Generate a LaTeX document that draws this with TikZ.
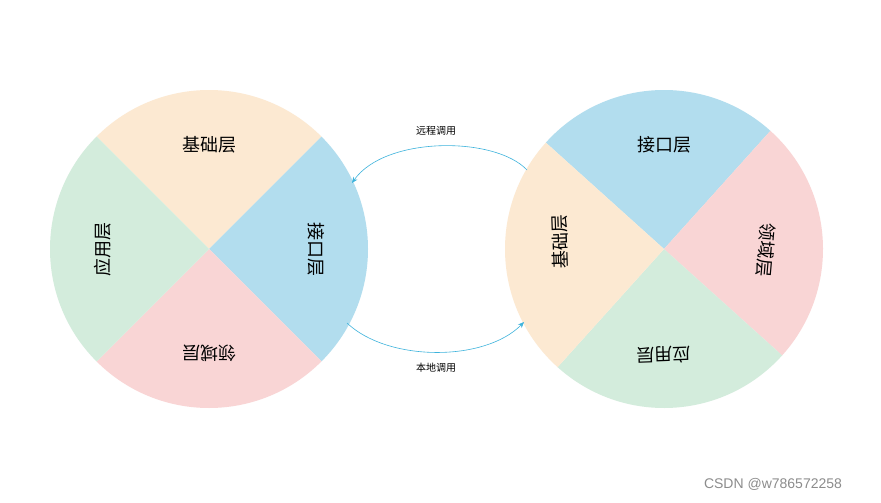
\documentclass[tikz,border=0pt]{standalone}
\usepackage{fontspec}
\newfontfamily\cjk{Noto Sans CJK SC}
\setsansfont{Liberation Sans}
\usetikzlibrary{arrows.meta}
\definecolor{cor}{HTML}{FCE9D2}
\definecolor{cbl}{HTML}{B2DDEE}
\definecolor{cpk}{HTML}{F9D5D5}
\definecolor{cgr}{HTML}{D3ECDC}
\definecolor{carr}{HTML}{3DB3DC}
\begin{document}
\begin{tikzpicture}[x=1pt,y=-1pt,
  lbl/.style={font=\cjk\fontsize{18}{20}\selectfont},
  sml/.style={font=\cjk\fontsize{10}{12}\selectfont},
  conn/.style={carr,line width=0.6pt,-{Stealth[length=6pt,width=5pt]}}]
\useasboundingbox[fill=white] (0,0) rectangle (881,503);
% left circle
\begin{scope}[shift={(209,249)}]
\fill[cor] (0,0) -- (-45:159) arc[start angle=-45,end angle=-135,radius=159] -- cycle;
\fill[cbl] (0,0) -- (45:159) arc[start angle=45,end angle=-45,radius=159] -- cycle;
\fill[cpk] (0,0) -- (135:159) arc[start angle=135,end angle=45,radius=159] -- cycle;
\fill[cgr] (0,0) -- (-135:159) arc[start angle=-135,end angle=-225,radius=159] -- cycle;
\end{scope}
\node[lbl] (l1) at (209,145) {基础层};
\node[lbl,rotate=-90] (l2) at (316,249) {接口层};
\node[lbl,rotate=180] (l3) at (209,353) {领域层};
\node[lbl,rotate=90] (l4) at (103,249) {应用层};
% right circle
\begin{scope}[shift={(664,249)},rotate=3]
\fill[cbl] (0,0) -- (-45:159) arc[start angle=-45,end angle=-135,radius=159] -- cycle;
\fill[cpk] (0,0) -- (45:159) arc[start angle=45,end angle=-45,radius=159] -- cycle;
\fill[cgr] (0,0) -- (135:159) arc[start angle=135,end angle=45,radius=159] -- cycle;
\fill[cor] (0,0) -- (-135:159) arc[start angle=-135,end angle=-225,radius=159] -- cycle;
\end{scope}
\node[lbl] (r1) at (664,145) {接口层};
\node[lbl,rotate=-95] (r2) at (766,250) {领域层};
\node[lbl,rotate=182] (r3) at (664,355) {应用层};
\node[lbl,rotate=92] (r4) at (560,242) {基础层};
% connectors
\coordinate (a1) at (527,170);
\coordinate (a2) at (352,183);
\coordinate (b1) at (347,323);
\coordinate (b2) at (524,322);
\draw[conn] (a1) .. controls (495,136) and (385,136) .. (a2);
\draw[conn] (b1) .. controls (388,362) and (485,362) .. (b2);
\node[sml] (t1) at (436,131) {远程调用};
\node[sml] (t2) at (436,368) {本地调用};
\node[font=\sffamily\fontsize{14}{16}\selectfont,text=black!45] (wm) at (773,484) {CSDN @w786572258};
\end{tikzpicture}
\end{document}
